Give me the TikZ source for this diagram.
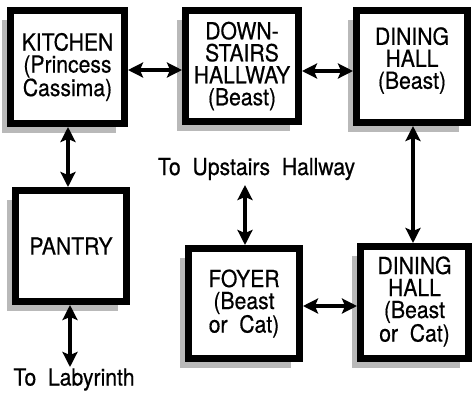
\documentclass[tikz,border=0pt]{standalone}
\usepackage{fontspec}
\setmainfont{TeX Gyre Heros}
\newfontfamily\roomfont{TeX Gyre Heros}[FakeStretch=0.9, FakeBold=0.5]
\usetikzlibrary{arrows.meta,shadows}
\tikzset{
  room/.style={draw=black, line width=7pt, fill=white, align=center,
    inner sep=0pt, minimum width=111pt, minimum height=111pt,
    font=\roomfont\fontsize{23.5}{22}\selectfont,
    drop shadow={shadow xshift=-8.5pt, shadow yshift=-9pt, fill=gray!55, opacity=1}},
  label/.style={inner sep=0pt, font=\roomfont\fontsize{23.5}{22}\selectfont, anchor=base},
  link/.style={line width=4.5pt, {Stealth[width=15pt,length=15pt,inset=3pt]}-{Stealth[width=15pt,length=15pt,inset=3pt]}}
}
\begin{document}
\begin{tikzpicture}[x=1pt,y=-1pt]
\useasboundingbox[fill=white] (0,0) rectangle (472,392);
\node[room, minimum width=114pt, minimum height=113pt] (kitchen) at (67.5,67) {KITCHEN\\(Princess\\Cassima)};
\node[room, minimum width=113pt, minimum height=111pt] (down) at (242,66) {DOWN-\\STAIRS\\HALLWAY\\(Beast)};
\node[room, minimum width=111pt, minimum height=112pt] (dine1) at (412,66.5) {DINING\\HALL\\(Beast)\rule[-17pt]{0pt}{0pt}};
\node[room] (pantry) at (71,246) {PANTRY};
\node[room, minimum height=110pt] (foyer) at (244,303.5) {FOYER\\(Beast\\or~~Cat)};
\node[room, minimum width=108pt, minimum height=112pt] (dine2) at (414.5,302.5) {DINING\\HALL\\(Beast\\or~~Cat)\rule[-7pt]{0pt}{0pt}};
\node[label] (up) at (256.5,175) {To~~Upstairs~~Hallway};
\node[label] (lab) at (74,385.5) {To~~Labyrinth};
\coordinate (upend) at (245,185);
\coordinate (labend) at (70,367);
\draw[link] (kitchen.east |- 0,70) -- (down.west |- 0,70);
\draw[link] (down.east |- 0,71) -- (dine1.west |- 0,71);
\draw[link] (kitchen.south -| 68,0) -- (pantry.north -| 68,0);
\draw[link] (dine1.south -| 413,0) -- (dine2.north -| 413,0);
\draw[link] (foyer.east |- 0,306) -- (dine2.west |- 0,306);
\draw[link] (upend) -- (foyer.north -| upend);
\draw[link] (pantry.south -| labend) -- (labend);
\end{tikzpicture}
\end{document}
